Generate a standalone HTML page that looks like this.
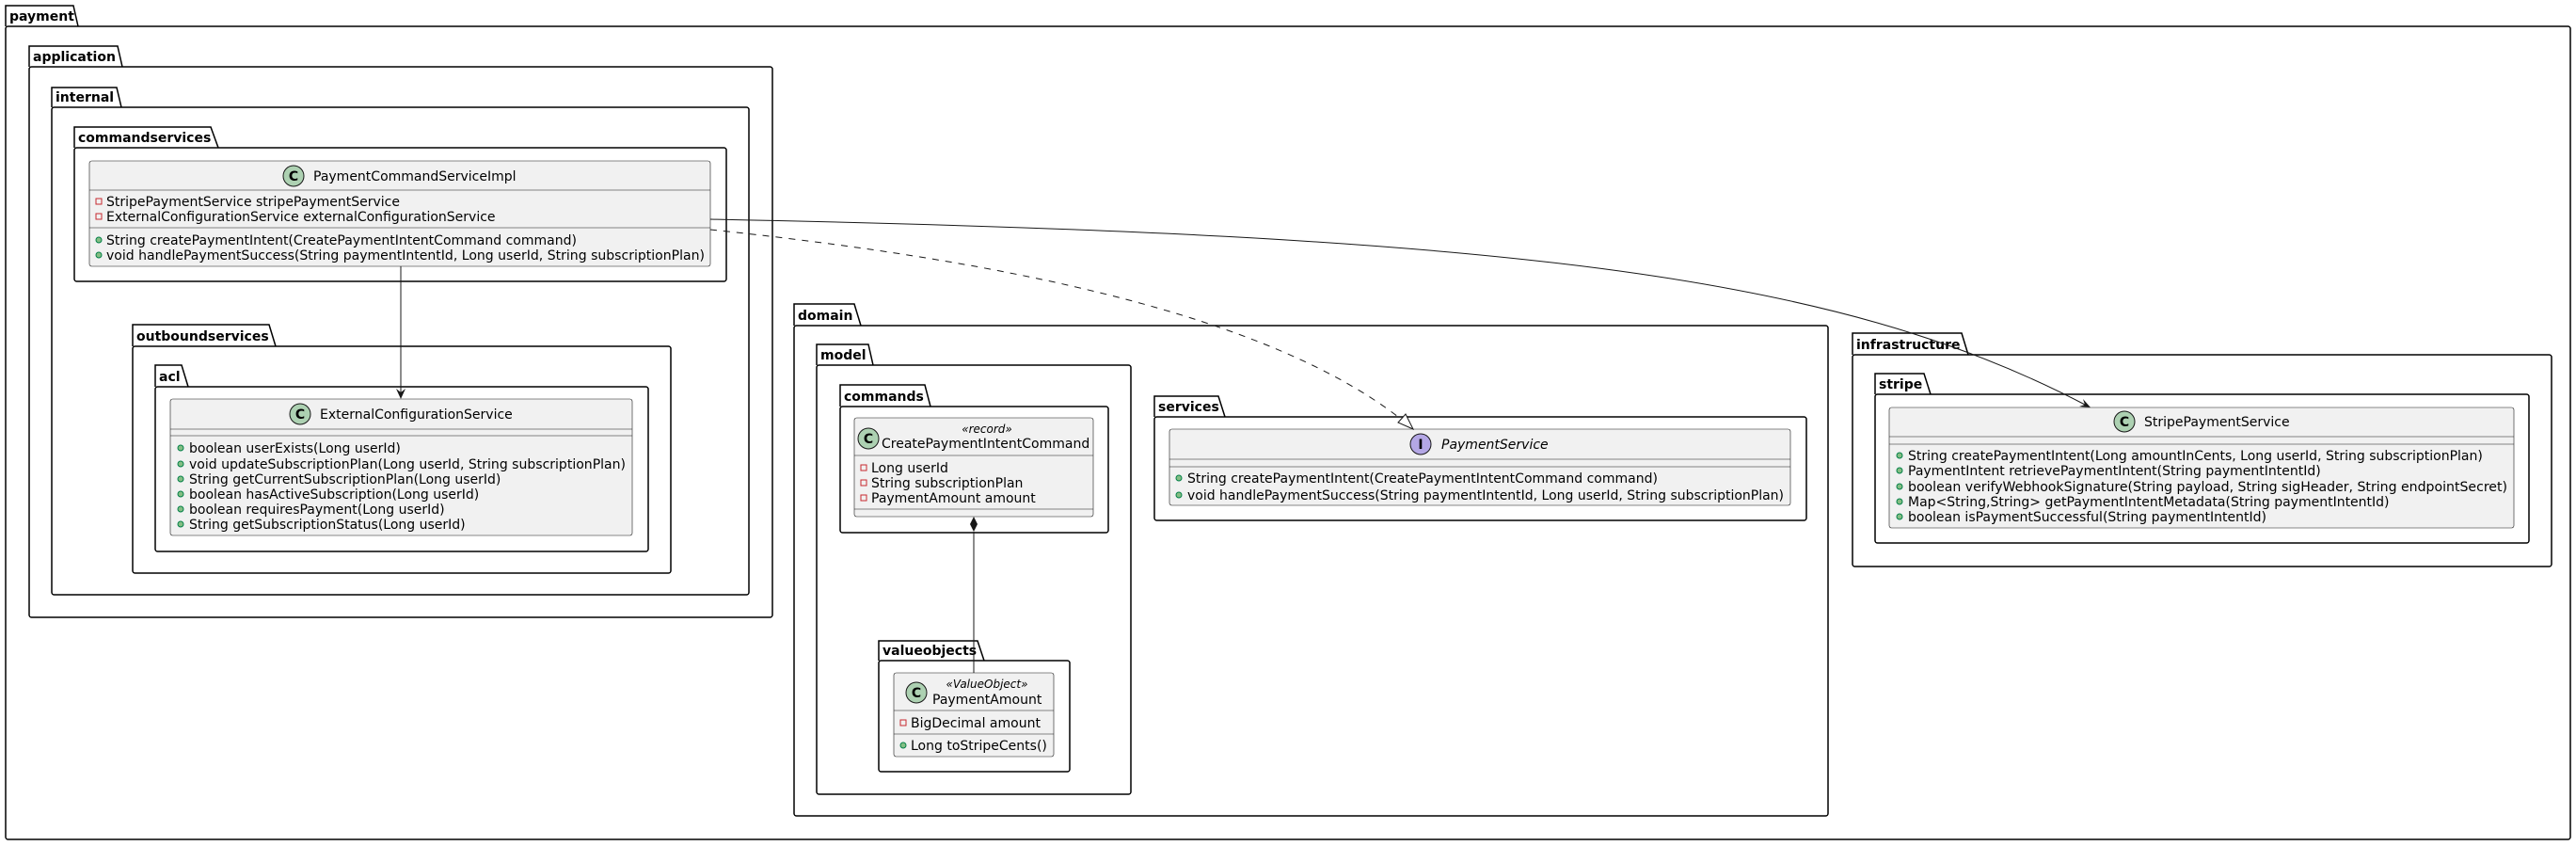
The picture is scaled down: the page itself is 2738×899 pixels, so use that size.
<!DOCTYPE html>
<html><head><meta charset="utf-8"><style>
html,body{margin:0;padding:0;background:#fff;}
svg{display:block;font-family:"DejaVu Sans","Liberation Sans",sans-serif;}
.f{fill:none;stroke:#000;stroke-width:1.5;}
.t{font-weight:bold;font-size:14px;fill:#000;}
.c{fill:#F1F1F1;stroke:#181818;stroke-width:0.6;}
.d{stroke:#181818;stroke-width:0.6;}
.m{font-size:14px;fill:#000;}
.s{font-size:12px;font-style:italic;fill:#000;}
.pr{fill:none;stroke:#C82930;stroke-width:1;}
.pu{fill:#84BE84;stroke:#038048;stroke-width:1;}
</style></head><body>
<svg width="2738" height="899" viewBox="0 0 2738 899" xmlns="http://www.w3.org/2000/svg">
<g>
<path class="f" d="M6,28 V6 H78 L83,28"/><rect class="f" x="6" y="28" width="2726" height="864" rx="2.5"/><text class="t" x="10" y="22">payment</text>
<path class="f" d="M31,71 V49 H125 L130,71"/><rect class="f" x="31" y="71" width="790" height="585" rx="2.5"/><text class="t" x="35" y="65">application</text>
<path class="f" d="M55,114 V93 H124 L129,114"/><rect class="f" x="55" y="114" width="741" height="518" rx="2.5"/><text class="t" x="59" y="108">internal</text>
<path class="f" d="M79,157 V135 H224 L232,157"/><rect class="f" x="79" y="157" width="693" height="142" rx="2.5"/><text class="t" x="83" y="151">commandservices</text>
<path class="f" d="M141,368 V345 H286 L293,368"/><rect class="f" x="141" y="368" width="572" height="241" rx="2.5"/><text class="t" x="145" y="362">outboundservices</text>
<path class="f" d="M165,411 V388 H193 L200,411"/><rect class="f" x="165" y="411" width="524" height="175" rx="2.5"/><text class="t" x="169" y="405">acl</text>
<path class="f" d="M844,346 V323 H908 L915,346"/><rect class="f" x="844" y="346" width="1099" height="521" rx="2.5"/><text class="t" x="848" y="340">domain</text>
<path class="f" d="M868,388 V366 H923 L928,388"/><rect class="f" x="868" y="388" width="334" height="456" rx="2.5"/><text class="t" x="872" y="382">model</text>
<path class="f" d="M893,432 V409 H983 L989,432"/><rect class="f" x="893" y="432" width="285" height="134" rx="2.5"/><text class="t" x="897" y="426">commands</text>
<path class="f" d="M934,702 V681 H1039 L1046,702"/><rect class="f" x="934" y="702" width="203" height="118" rx="2.5"/><text class="t" x="938" y="696">valueobjects</text>
<path class="f" d="M1227,443 V421 H1295 L1302,443"/><rect class="f" x="1227" y="443" width="693" height="110" rx="2.5"/><text class="t" x="1231" y="437">services</text>
<path class="f" d="M1969,377 V354 H2085 L2092,377"/><rect class="f" x="1969" y="377" width="743" height="225" rx="2.5"/><text class="t" x="1973" y="371">infrastructure</text>
<path class="f" d="M1993,419 V397 H2045 L2052,419"/><rect class="f" x="1993" y="419" width="695" height="158" rx="2.5"/><text class="t" x="1997" y="413">stripe</text>
</g>

<rect class="c" x="95" y="171" width="660" height="112" rx="2.5"/>
<circle cx="312" cy="187" r="11" fill="#ADD1B2" stroke="#181818" stroke-width="1"/>
<text x="312" y="192" text-anchor="middle" font-weight="bold" font-size="14">C</text>
<text class="m" x="333" y="192">PaymentCommandServiceImpl</text>
<line class="d" x1="95" y1="202" x2="755" y2="202"/>
<rect class="pr" x="102" y="211" width="6" height="6"/><text class="m" x="113" y="219">StripePaymentService stripePaymentService</text>
<rect class="pr" x="102" y="227" width="6" height="6"/><text class="m" x="113" y="235">ExternalConfigurationService externalConfigurationService</text>
<line class="d" x1="95" y1="242" x2="755" y2="242"/>
<circle class="pu" cx="105" cy="255" r="3"/><text class="m" x="113" y="260">String createPaymentIntent(CreatePaymentIntentCommand command)</text>
<circle class="pu" cx="105" cy="271" r="3"/><text class="m" x="113" y="276" textLength="636" lengthAdjust="spacingAndGlyphs">void handlePaymentSuccess(String paymentIntentId, Long userId, String subscriptionPlan)</text>

<rect class="c" x="181" y="424" width="491" height="145" rx="2.5"/>
<circle cx="319" cy="440" r="11" fill="#ADD1B2" stroke="#181818" stroke-width="1"/>
<text x="319" y="445" text-anchor="middle" font-weight="bold" font-size="14">C</text>
<text class="m" x="340" y="445">ExternalConfigurationService</text>
<line class="d" x1="181" y1="456" x2="672" y2="456"/>
<line class="d" x1="181" y1="463" x2="672" y2="463"/>
<circle class="pu" cx="192" cy="476" r="3"/><text class="m" x="201" y="481">boolean userExists(Long userId)</text>
<circle class="pu" cx="192" cy="493" r="3"/><text class="m" x="201" y="498" textLength="464" lengthAdjust="spacingAndGlyphs">void updateSubscriptionPlan(Long userId, String subscriptionPlan)</text>
<circle class="pu" cx="192" cy="509" r="3"/><text class="m" x="201" y="514">String getCurrentSubscriptionPlan(Long userId)</text>
<circle class="pu" cx="192" cy="525" r="3"/><text class="m" x="201" y="530">boolean hasActiveSubscription(Long userId)</text>
<circle class="pu" cx="192" cy="541" r="3"/><text class="m" x="201" y="546">boolean requiresPayment(Long userId)</text>
<circle class="pu" cx="192" cy="557" r="3"/><text class="m" x="201" y="562">String getSubscriptionStatus(Long userId)</text>

<rect class="c" x="908" y="444" width="254" height="105" rx="2.5"/>
<circle cx="923" cy="466" r="11" fill="#ADD1B2" stroke="#181818" stroke-width="1"/>
<text x="923" y="471" text-anchor="middle" font-weight="bold" font-size="14">C</text>
<text class="s" x="1049" y="460" text-anchor="middle">«record»</text>
<text class="m" x="937" y="476">CreatePaymentIntentCommand</text>
<line class="d" x1="908" y1="484" x2="1162" y2="484"/>
<rect class="pr" x="915" y="494" width="6" height="6"/><text class="m" x="926" y="502">Long userId</text>
<rect class="pr" x="915" y="510" width="6" height="6"/><text class="m" x="926" y="518">String subscriptionPlan</text>
<rect class="pr" x="915" y="526" width="6" height="6"/><text class="m" x="926" y="534">PaymentAmount amount</text>
<line class="d" x1="908" y1="541" x2="1162" y2="541"/>

<rect class="c" x="950" y="715" width="170" height="89" rx="2.5"/>
<circle cx="974" cy="736" r="11" fill="#ADD1B2" stroke="#181818" stroke-width="1"/>
<text x="974" y="741" text-anchor="middle" font-weight="bold" font-size="14">C</text>
<text class="s" x="1049" y="731" text-anchor="middle">«ValueObject»</text>
<text class="m" x="991" y="748">PaymentAmount</text>
<line class="d" x1="950" y1="755" x2="1120" y2="755"/>
<rect class="pr" x="957" y="765" width="6" height="6"/><text class="m" x="968" y="773">BigDecimal amount</text>
<line class="d" x1="950" y1="780" x2="1120" y2="780"/>
<circle class="pu" cx="960" cy="792" r="3"/><text class="m" x="968" y="797">Long toStripeCents()</text>

<rect class="c" x="1243" y="456" width="660" height="81" rx="2.5"/>
<circle cx="1510" cy="472" r="11" fill="#B4A7E5" stroke="#181818" stroke-width="1"/>
<text x="1510" y="477" text-anchor="middle" font-weight="bold" font-size="14">I</text>
<text class="m" x="1532" y="477" font-style="italic">PaymentService</text>
<line class="d" x1="1243" y1="488" x2="1903" y2="488"/>
<line class="d" x1="1243" y1="496" x2="1903" y2="496"/>
<circle class="pu" cx="1253" cy="508" r="3"/><text class="m" x="1262" y="513">String createPaymentIntent(CreatePaymentIntentCommand command)</text>
<circle class="pu" cx="1253" cy="526" r="3"/><text class="m" x="1262" y="531" textLength="634" lengthAdjust="spacingAndGlyphs">void handlePaymentSuccess(String paymentIntentId, Long userId, String subscriptionPlan)</text>

<rect class="c" x="2008" y="433" width="664" height="128" rx="2.5"/>
<circle cx="2258" cy="448" r="11" fill="#ADD1B2" stroke="#181818" stroke-width="1"/>
<text x="2258" y="453" text-anchor="middle" font-weight="bold" font-size="14">C</text>
<text class="m" x="2279" y="453">StripePaymentService</text>
<line class="d" x1="2008" y1="464" x2="2672" y2="464"/>
<line class="d" x1="2008" y1="472" x2="2672" y2="472"/>
<circle class="pu" cx="2019" cy="484" r="3"/><text class="m" x="2028" y="489">String createPaymentIntent(Long amountInCents, Long userId, String subscriptionPlan)</text>
<circle class="pu" cx="2019" cy="500" r="3"/><text class="m" x="2028" y="505">PaymentIntent retrievePaymentIntent(String paymentIntentId)</text>
<circle class="pu" cx="2019" cy="517" r="3"/><text class="m" x="2028" y="522" textLength="637" lengthAdjust="spacingAndGlyphs">boolean verifyWebhookSignature(String payload, String sigHeader, String endpointSecret)</text>
<circle class="pu" cx="2019" cy="533" r="3"/><text class="m" x="2028" y="538">Map&lt;String,String&gt; getPaymentIntentMetadata(String paymentIntentId)</text>
<circle class="pu" cx="2019" cy="549" r="3"/><text class="m" x="2028" y="554">boolean isPaymentSuccessful(String paymentIntentId)</text>

<line x1="426" y1="283" x2="426" y2="422" stroke="#181818" stroke-width="1"/>
<polygon points="426,424 421,413 426,417 431,413" fill="#181818"/>

<path d="M755,244 C1000,270 1330,320 1490,446" fill="none" stroke="#181818" stroke-width="1" stroke-dasharray="7,7"/>
<polygon points="1502,456 1486,449 1494,440" fill="#fff" stroke="#181818" stroke-width="1"/>

<path d="M755,233 C1600,250 1950,290 2218,431" fill="none" stroke="#181818" stroke-width="1"/>
<polygon points="2222,433 2210,432 2216,430 2214,424" fill="#181818"/>

<line x1="1035" y1="565" x2="1035" y2="715" stroke="#181818" stroke-width="1"/>
<polygon points="1035,549 1039,557 1035,565 1031,557" fill="#181818"/>
</svg>
</body></html>
